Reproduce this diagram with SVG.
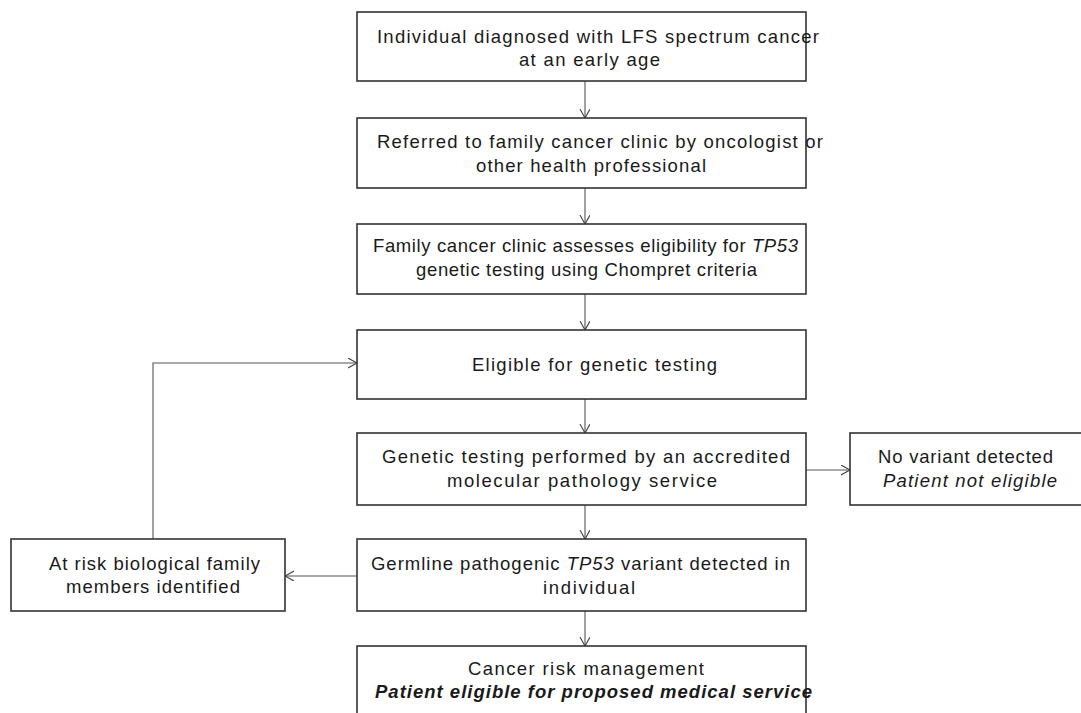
<svg xmlns="http://www.w3.org/2000/svg" width="1081" height="713" viewBox="0 0 1081 713">
<style>
.box{fill:#fff;stroke:#333;stroke-width:1.6}
.t{font-family:"Liberation Sans",Arial,sans-serif;font-size:18.5px;fill:#1a1a1a}
.i{font-style:italic}
.bi{font-style:italic;font-weight:bold}
.c{fill:none;stroke:#555;stroke-width:1.1}
</style>
<defs>
<marker id="arr" markerUnits="userSpaceOnUse" markerWidth="12" markerHeight="12" refX="9" refY="5" orient="auto">
<path d="M0,0 L9,5 L0,10" fill="none" stroke="#444" stroke-width="1.1"/>
</marker>
</defs>
<rect width="1081" height="713" fill="#fff"/>
<g id="connectors">
<line class="c" x1="585" y1="81" x2="585" y2="118" marker-end="url(#arr)"/>
<line class="c" x1="585" y1="188" x2="585" y2="224" marker-end="url(#arr)"/>
<line class="c" x1="585" y1="294" x2="585" y2="330" marker-end="url(#arr)"/>
<line class="c" x1="585" y1="399" x2="585" y2="433" marker-end="url(#arr)"/>
<line class="c" x1="585" y1="505" x2="585" y2="539" marker-end="url(#arr)"/>
<line class="c" x1="585" y1="611" x2="585" y2="646" marker-end="url(#arr)"/>
<line class="c" x1="806" y1="470" x2="850" y2="470" marker-end="url(#arr)"/>
<line class="c" x1="357" y1="576" x2="285" y2="576" marker-end="url(#arr)"/>
<polyline class="c" points="153,539 153,363 357,363" marker-end="url(#arr)"/>
</g>
<g id="n1">
<rect class="box" x="357" y="12" width="449" height="69"/>
<text class="t" x="377" y="43" textLength="442" lengthAdjust="spacing">Individual diagnosed with LFS spectrum cancer</text>
<text class="t" x="519" y="66" textLength="141" lengthAdjust="spacing">at an early age</text>
</g>
<g id="n2">
<rect class="box" x="357" y="118" width="449" height="70"/>
<text class="t" x="377" y="148" textLength="446" lengthAdjust="spacing">Referred to family cancer clinic by oncologist or</text>
<text class="t" x="476" y="172" textLength="230" lengthAdjust="spacing">other health professional</text>
</g>
<g id="n3">
<rect class="box" x="357" y="224" width="449" height="70"/>
<text class="t" x="373" y="252" textLength="425" lengthAdjust="spacing">Family cancer clinic assesses eligibility for <tspan class="i">TP53</tspan></text>
<text class="t" x="416" y="276" textLength="341" lengthAdjust="spacing">genetic testing using Chompret criteria</text>
</g>
<g id="n4">
<rect class="box" x="357" y="330" width="449" height="69"/>
<text class="t" x="472" y="371" textLength="245" lengthAdjust="spacing">Eligible for genetic testing</text>
</g>
<g id="n5">
<rect class="box" x="357" y="433" width="449" height="72"/>
<text class="t" x="382" y="463" textLength="408" lengthAdjust="spacing">Genetic testing performed by an accredited</text>
<text class="t" x="447" y="487" textLength="270" lengthAdjust="spacing">molecular pathology service</text>
</g>
<g id="n6">
<rect class="box" x="357" y="539" width="449" height="72"/>
<text class="t" x="371" y="570" textLength="419" lengthAdjust="spacing">Germline pathogenic <tspan class="i">TP53</tspan> variant detected in</text>
<text class="t" x="543" y="594" textLength="92" lengthAdjust="spacing">individual</text>
</g>
<g id="n7">
<rect class="box" x="357" y="646" width="449" height="72"/>
<text class="t" x="468" y="675" textLength="236" lengthAdjust="spacing">Cancer risk management</text>
<text class="t bi" x="375" y="698" textLength="437" lengthAdjust="spacing">Patient eligible for proposed medical service</text>
</g>
<g id="n8">
<rect class="box" x="11" y="539" width="274" height="72"/>
<text class="t" x="49" y="570" textLength="211" lengthAdjust="spacing">At risk biological family</text>
<text class="t" x="66" y="593" textLength="174" lengthAdjust="spacing">members identified</text>
</g>
<g id="n9">
<rect class="box" x="850" y="433" width="240" height="72"/>
<text class="t" x="878" y="463" textLength="175" lengthAdjust="spacing">No variant detected</text>
<text class="t i" x="883" y="487" textLength="174" lengthAdjust="spacing">Patient not eligible</text>
</g>
</svg>
